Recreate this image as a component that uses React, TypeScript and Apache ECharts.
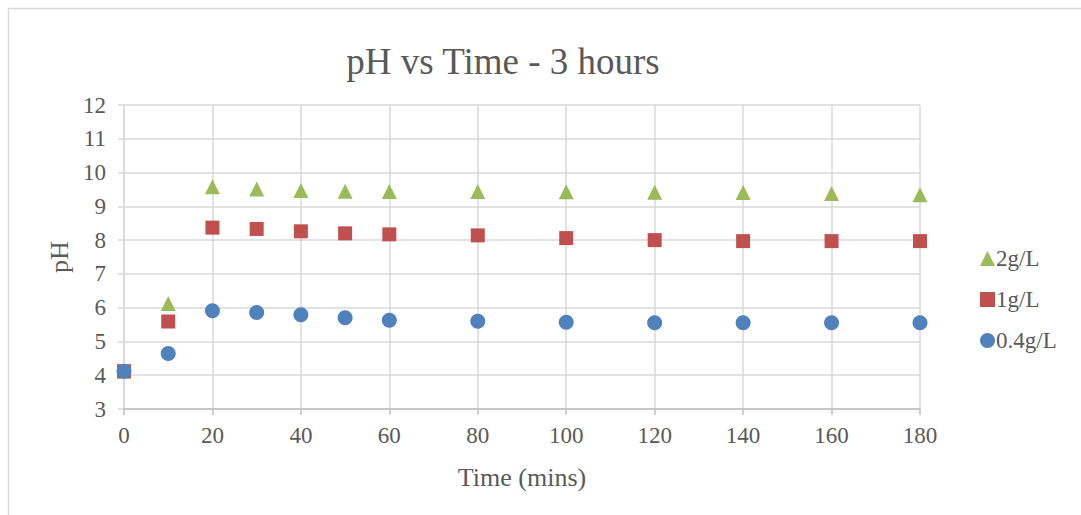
import React, { useEffect, useRef } from "react";
import * as echarts from "echarts";

const times = [0, 10, 20, 30, 40, 50, 60, 80, 100, 120, 140, 160, 180];
const ph2 = [4.12, 6.12, 9.58, 9.51, 9.47, 9.45, 9.44, 9.44, 9.43, 9.42, 9.41, 9.38, 9.34];
const ph1 = [4.12, 5.59, 8.37, 8.33, 8.26, 8.2, 8.17, 8.14, 8.06, 8.0, 7.97, 7.97, 7.97];
const ph04 = [4.12, 4.64, 5.91, 5.86, 5.79, 5.7, 5.63, 5.6, 5.57, 5.55, 5.55, 5.55, 5.55];
const seriesNames = ["2g/L", "1g/L", "0.4g/L"];
const titleText = "pH vs Time - 3 hours";
const xName = "Time (mins)";
const yName = "pH";

const FONT = "Liberation Serif";
const TEXT = "#595959";

export default function App() {
  const ref = useRef<HTMLDivElement>(null);
  useEffect(() => {
    if (!ref.current) return;
    const chart = echarts.init(ref.current, null, { renderer: "svg" });
    const pair = (ys: number[]) => times.map((t, i) => [t, ys[i]]);
    chart.setOption({
      animation: false,
      backgroundColor: "#ffffff",
      textStyle: { fontFamily: FONT },
      title: {
        text: titleText,
        left: 498,
        top: 38,
        textAlign: "center",
        textStyle: { fontFamily: FONT, fontSize: 37, fontWeight: "normal", color: TEXT },
      },
      graphic: [
        {
          type: "rect",
          shape: { x: 8.5, y: 8.5, width: 1200, height: 600 },
          style: { fill: "none", stroke: "#d9d9d9", lineWidth: 1.5 },
          silent: true,
        },
      ],
      grid: { left: 124, right: 161, top: 105, bottom: 106 },
      xAxis: {
        type: "value",
        min: 0,
        max: 180,
        interval: 20,
        name: xName,
        nameLocation: "middle",
        nameGap: 55,
        nameTextStyle: { fontFamily: FONT, fontSize: 26, color: TEXT },
        axisLine: { show: true, lineStyle: { color: "#bfbfbf", width: 1.5 } },
        axisTick: { show: true, length: 6, lineStyle: { color: "#bfbfbf", width: 1.5 } },
        axisLabel: { fontFamily: FONT, fontSize: 23, color: TEXT, margin: 15 },
        splitLine: { show: true, lineStyle: { color: "#d9d9d9", width: 1.5 } },
      },
      yAxis: {
        type: "value",
        min: 3,
        max: 12,
        interval: 1,
        name: yName,
        nameLocation: "middle",
        nameGap: 52,
        nameRotate: 90,
        nameTextStyle: { fontFamily: FONT, fontSize: 26, color: TEXT },
        axisLine: { show: true, lineStyle: { color: "#d9d9d9", width: 1.5 } },
        axisTick: { show: true, length: 6, lineStyle: { color: "#d9d9d9", width: 1.5 } },
        axisLabel: { fontFamily: FONT, fontSize: 23, color: TEXT, margin: 18 },
        splitLine: { show: true, lineStyle: { color: "#d9d9d9", width: 1.5 } },
      },
      legend: {
        orient: "vertical",
        left: 975,
        top: 242,
        itemGap: 18,
        itemWidth: 15,
        itemHeight: 15,
        textStyle: { fontFamily: FONT, fontSize: 23, color: TEXT, padding: [0, 0, 0, -4] },
        data: seriesNames,
      },
      series: [
        {
          name: seriesNames[0],
          type: "scatter",
          symbol: "triangle",
          symbolSize: 15,
          itemStyle: { color: "#9BBB59", opacity: 1 },
          data: pair(ph2),
        },
        {
          name: seriesNames[1],
          type: "scatter",
          symbol: "rect",
          symbolSize: 14,
          itemStyle: { color: "#C0504D", opacity: 1 },
          data: pair(ph1),
        },
        {
          name: seriesNames[2],
          type: "scatter",
          symbol: "circle",
          symbolSize: 15,
          itemStyle: { color: "#4F81BD", opacity: 1 },
          data: pair(ph04),
        },
      ],
    });
    return () => chart.dispose();
  }, []);
  return (
    <div
      ref={ref}
      style={{ position: "fixed", left: 0, top: 0, width: 1081, height: 515 }}
    />
  );
}
